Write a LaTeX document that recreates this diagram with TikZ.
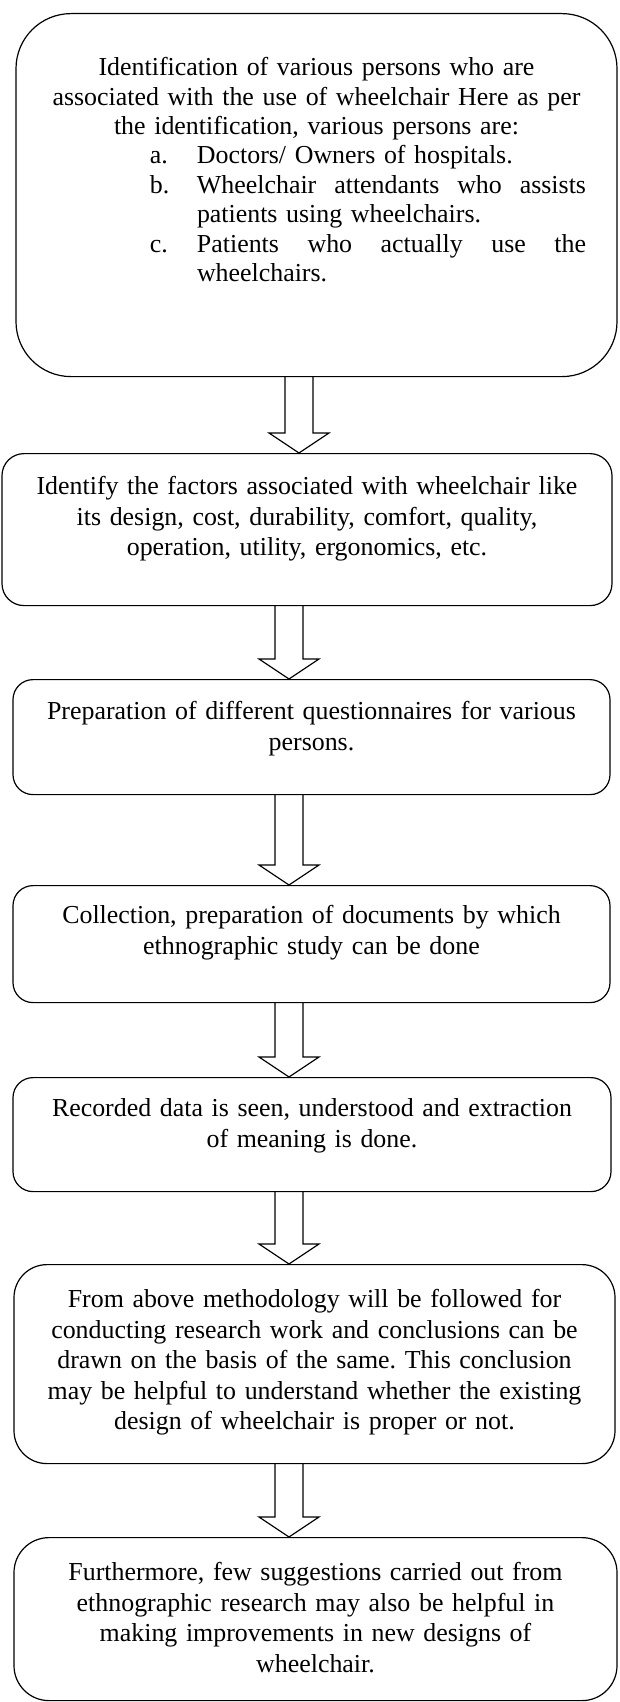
\documentclass[tikz,border=0pt]{standalone}
\usepackage{fontspec}
\setmainfont{Liberation Serif}
\usetikzlibrary{calc}
\frenchspacing

% one line of the list in the first step: label, then text
\newcommand{\personline}[2]{\hspace*{103pt}\makebox[436pt][l]{\makebox[47pt][l]{#1}#2}}
\newcommand{\fullline}[1]{\hbox to 389pt{#1}}

\begin{document}
\begin{tikzpicture}[x=1pt,y=-1pt]
\tikzstyle{stepbox}=[draw, line width=1.2pt, anchor=north, align=center, inner sep=0pt, font=\fontsize{25.9}{30.5}\selectfont]
\tikzstyle{hollow}=[draw, line width=1.2pt, to path={let \p1=(\tikztostart), \p2=(\tikztotarget) in
  (\x1-14pt,\y1) -- (\x1-14pt,\y2+20pt) -- (\x1-30pt,\y2+20pt) -- (\x1,\y2)
  -- (\x1+30pt,\y2+20pt) -- (\x1+14pt,\y2+20pt) -- (\x1+14pt,\y1)}]

\useasboundingbox (0,0) rectangle (619,1702);

\draw (316.5,13) node[stepbox, rounded corners=55pt, text width=601pt, text height=62pt, text depth=301pt,
  font=\fontsize{25.9}{29.4}\selectfont] (persons) {Identification of various persons who are\\
  associated with the use of wheelchair Here as per\\
  the identification, various persons are:\\
  \personline{a.}{Doctors/ Owners of hospitals.}\\
  \personline{b.}{\fullline{Wheelchair\hfill attendants\hfill who\hfill assists}}\\
  \personline{}{patients using wheelchairs.}\\
  \personline{c.}{\fullline{Patients\hfill who\hfill actually\hfill use\hfill the}}\\
  \personline{}{wheelchairs.}};
\draw (307,453) node[stepbox, rounded corners=22pt, text width=610pt, text height=41pt, text depth=111pt] (factors)
  {Identify the factors associated with wheelchair like\\its design, cost, durability, comfort, quality,\\operation, utility, ergonomics, etc.};
\draw (311.5,679) node[stepbox, rounded corners=20pt, text width=597pt, text height=40pt, text depth=75pt] (questionnaire)
  {Preparation of different questionnaires for various\\persons.};
\draw (311.5,885) node[stepbox, rounded corners=20pt, text width=597pt, text height=38pt, text depth=79pt] (documents)
  {Collection, preparation of documents by which\\ethnographic study can be done};
\draw (312,1077) node[stepbox, rounded corners=20pt, text width=598pt, text height=39pt, text depth=75pt] (recorded)
  {Recorded data is seen, understood and extraction\\of meaning is done.};
\draw (314.5,1264) node[stepbox, rounded corners=33pt, text width=601pt, text height=43pt, text depth=156pt] (methodology)
  {From above methodology will be followed for\\conducting research work and conclusions can be\\drawn on the basis of the same. This conclusion\\may be helpful to understand whether the existing\\design of wheelchair is proper or not.};
\draw (315.5,1537) node[stepbox, rounded corners=35pt, text width=603pt, text height=43pt, text depth=120pt] (suggestions)
  {Furthermore, few suggestions carried out from\\ethnographic research may also be helpful in\\making improvements in new designs of\\wheelchair.};

% hollow arrows between the steps
\coordinate (axis1) at (299,0);
\coordinate (axis) at (289,0);
\draw[hollow] (persons.south -| axis1) to (factors.north -| axis1);
\foreach \a/\b in {factors/questionnaire, questionnaire/documents, documents/recorded, recorded/methodology, methodology/suggestions}
  \draw[hollow] (\a.south -| axis) to (\b.north -| axis);
\end{tikzpicture}
\end{document}
